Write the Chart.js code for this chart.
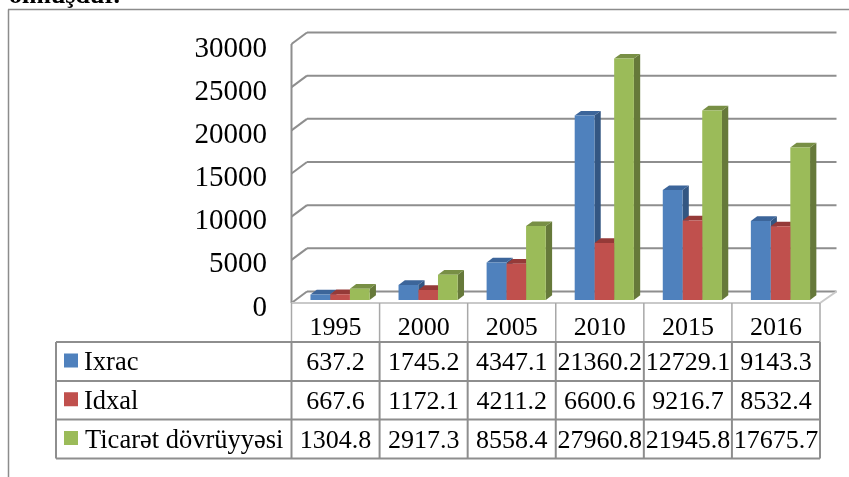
<!DOCTYPE html>
<html>
<head>
<meta charset="utf-8">
<script src="https://cdn.jsdelivr.net/npm/chart.js@4"></script>
<style>
  html,body{margin:0;padding:0;background:#fff;overflow:hidden}
  #wrap{position:relative;width:849px;height:477px}
</style>
</head>
<body>
<div id="wrap"><canvas id="c" width="849" height="477"></canvas></div>
<script>
const years = ['1995','2000','2005','2010','2015','2016'];
const ixrac = [637.2,1745.2,4347.1,21360.2,12729.1,9143.3];
const idxal = [667.6,1172.1,4211.2,6600.6,9216.7,8532.4];
const ticaret = [1304.8,2917.3,8558.4,27960.8,21945.8,17675.7];
const seriesNames = ['Ixrac','Idxal','Ticarət dövrüyyəsi'];
const yTicks = [0,5000,10000,15000,20000,25000,30000];

const FONT = '"Liberation Serif"';
const GRID = '#8e8e8e';
const front = ['#4F81BD','#C0504D','#9BBB59'];
const side = ['#335682','#7f3230','#66793a'];
const topc = ['#3c659a','#953a38','#788f45'];
const DX = 6.3, DY = 4.7;      // depth of the bars
const WX = 15.5, WY = 11.5;    // depth of the walls
const BAR_SHIFT = 4.5;         // bars sit a bit right of the table cells

function line(ctx,x1,y1,x2,y2,col,w){
  ctx.strokeStyle=col; ctx.lineWidth=w;
  ctx.beginPath(); ctx.moveTo(x1,y1); ctx.lineTo(x2,y2); ctx.stroke();
}
function poly(ctx,pts,col){
  ctx.fillStyle=col; ctx.beginPath();
  pts.forEach((p,i)=> i?ctx.lineTo(p[0],p[1]):ctx.moveTo(p[0],p[1]));
  ctx.closePath(); ctx.fill();
}

// back wall, floor and the depth faces of the bars
const walls = {
  id:'walls',
  beforeDatasetsDraw(chart){
    const {ctx,scales:{x,y}} = chart;
    const left = x.left-BAR_SHIFT, right = x.right-BAR_SHIFT;
    const off = 3; // front edge of the wall sits below the value position
    ctx.save();
    yTicks.forEach(v=>{
      const py = y.getPixelForValue(v)+off;
      line(ctx,left,py,left+WX,py-WY,GRID,2);
      line(ctx,left+WX,py-WY,right+WX+1,py-WY,GRID,2);
    });
    line(ctx,left,y.getPixelForValue(30000)+off,left,y.getPixelForValue(0)+off,GRID,2);
    const fy = y.getPixelForValue(0)+off;
    line(ctx,left,fy,right,fy,'#c9c9c9',2);
    line(ctx,right,fy,right+WX+1,fy-WY,'#c9c9c9',2);
    chart.data.datasets.forEach((ds,d)=>{
      chart.getDatasetMeta(d).data.forEach(b=>{
        const l=b.x-b.width/2, r=b.x+b.width/2, t=b.y, bt=b.base;
        poly(ctx,[[r,t],[r+DX,t-DY],[r+DX,bt-DY],[r,bt]],side[d]);
        poly(ctx,[[l,t],[l+DX,t-DY],[r+DX,t-DY],[r,t]],topc[d]);
      });
    });
    ctx.restore();
  }
};

// outer frame, clipped caption and the data table under the plot
const table = {
  id:'table',
  afterDraw(chart){
    const {ctx,scales:{x,y}} = chart;
    const fy = y.getPixelForValue(0)+3;
    const rows = [342,381,419.5,458.5];
    const tableLeft = 56;
    const cellW = x.getPixelForValue(1)-x.getPixelForValue(0);
    const edges = years.map((_,i)=>x.getPixelForValue(i)-BAR_SHIFT-cellW/2);
    edges.push(edges[edges.length-1]+cellW);
    ctx.save();
    // frame
    line(ctx,8.5,9.5,8.5,477,'#8c8c8c',1.5);
    line(ctx,8,9.5,849,9.5,'#8c8c8c',1.5);
    ctx.fillStyle='#000'; ctx.textBaseline='alphabetic'; ctx.textAlign='left';
    ctx.font='bold 26px '+FONT;
    ctx.fillText('olmuşdur.',9,3);
    // year row verticals
    edges.forEach(ex=>line(ctx,ex,fy,ex,rows[0],'#a8a8a8',1.5));
    // body
    rows.forEach(ry=>line(ctx,tableLeft,ry,edges[6],ry,GRID,2));
    line(ctx,tableLeft,rows[0],tableLeft,rows[3],GRID,2);
    edges.forEach(ex=>line(ctx,ex,rows[0],ex,rows[3],GRID,2));
    [ixrac,idxal,ticaret].forEach((vals,r)=>{
      const my = (rows[r]+rows[r+1])/2;
      ctx.fillStyle=front[r];
      ctx.fillRect(64,my-8,14,14);
      ctx.fillStyle='#000';
      ctx.font='26.5px '+FONT;
      ctx.textAlign='left';
      ctx.fillText(seriesNames[r],r===2?85:84,my+8.5);
      ctx.font='26px '+FONT;
      ctx.textAlign='center';
      vals.forEach((v,i)=>ctx.fillText(v.toFixed(1),(edges[i]+edges[i+1])/2,my+8.5));
    });
    ctx.restore();
  }
};

new Chart(document.getElementById('c'),{
  type:'bar',
  data:{labels:years,datasets:[
    {label:seriesNames[0],data:ixrac,backgroundColor:front[0],borderWidth:0},
    {label:seriesNames[1],data:idxal,backgroundColor:front[1],borderWidth:0},
    {label:seriesNames[2],data:ticaret,backgroundColor:front[2],borderWidth:0}
  ]},
  options:{
    responsive:false,animation:false,
    layout:{autoPadding:false,padding:{left:0,right:24.5,top:41,bottom:0}},
    plugins:{legend:{display:false},tooltip:{enabled:false},title:{display:false}},
    datasets:{bar:{barPercentage:1,categoryPercentage:0.672}},
    scales:{
      x:{
        position:'bottom',
        grid:{display:false},border:{display:false},
        afterFit(s){s.height=177},
        ticks:{display:true,color:'#000',font:{family:FONT,size:26},labelOffset:-BAR_SHIFT,padding:5,maxRotation:0}
      },
      y:{
        min:0,max:30000,
        grid:{display:false},border:{display:false},
        afterFit(s){s.width=296},
        afterBuildTicks(s){s.ticks=yTicks.map(v=>({value:v}))},
        ticks:{color:'#000',font:{family:FONT,size:29},padding:21,labelOffset:8,callback:v=>String(v)}
      }
    }
  },
  plugins:[walls,table]
});
</script>
</body>
</html>
